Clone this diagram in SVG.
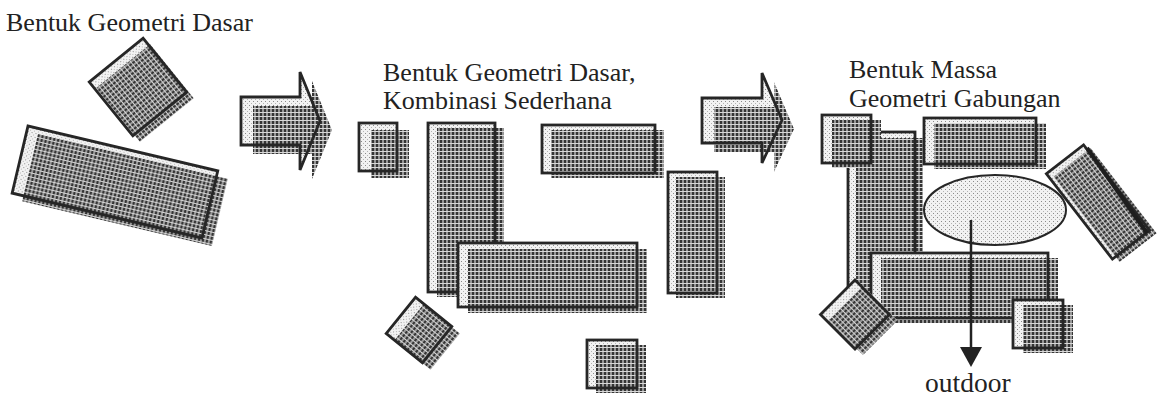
<svg xmlns="http://www.w3.org/2000/svg" width="1167" height="400" viewBox="0 0 1167 400">
<defs>
<pattern id="dark" width="4" height="4" patternUnits="userSpaceOnUse">
<rect width="4" height="4" fill="#979797"/>
<rect x="0" y="0" width="2" height="3" fill="#353535"/>
<rect x="0" y="3" width="4" height="1" fill="#d8d8d8"/>
</pattern>
<pattern id="light" width="4" height="4" patternUnits="userSpaceOnUse">
<rect width="4" height="4" fill="#f2f2f2"/>
<rect x="1" y="1" width="1" height="1" fill="#8a8a8a"/>
<rect x="3" y="3" width="1" height="1" fill="#b4b4b4"/>
</pattern>
<style>
.ol{fill:none;stroke:#262626;stroke-width:2.8;stroke-linejoin:miter}
.lt{fill:url(#light)}
.dk{fill:url(#dark)}
.t{font-family:"Liberation Serif","Times New Roman",serif;font-size:26px;fill:#222}
</style>
</defs>
<rect width="1167" height="400" fill="#ffffff"/>

<g id="labels">
<text class="t" x="6" y="31">Bentuk Geometri Dasar</text>
<text class="t" x="383" y="81">Bentuk Geometri Dasar,</text>
<text class="t" x="383" y="109">Kombinasi Sederhana</text>
<text class="t" x="849" y="78">Bentuk Massa</text>
<text class="t" x="849" y="107">Geometri Gabungan</text>
<text class="t" x="925" y="392" style="font-size:27.5px">outdoor</text>
</g>

<!-- Stage 1 -->
<g id="s1-diamond">
<rect class="lt" transform="translate(138,87) rotate(51)" x="-34.6" y="-34.6" width="69.3" height="69.3"/>
<rect class="dk" transform="translate(145,93) rotate(51)" x="-34.6" y="-34.6" width="69.3" height="69.3"/>
<rect class="ol" transform="translate(138,87) rotate(51)" x="-34.6" y="-34.6" width="69.3" height="69.3"/>
</g>
<g id="s1-bar">
<rect class="lt" transform="translate(28,126) rotate(13.3)" width="195" height="69"/>
<rect class="dk" transform="translate(38,134) rotate(13.3)" width="195" height="69"/>
<rect class="ol" transform="translate(28,126) rotate(13.3)" width="195" height="69"/>
</g>

<!-- Stage 2 -->
<g id="s2-square-a">
<rect class="lt" x="359" y="123" width="38" height="48"/>
<rect class="dk" x="371" y="130" width="38" height="48"/>
<rect class="ol" x="359" y="123" width="38" height="48"/>
</g>
<g id="s2-vbar">
<rect class="lt" x="428" y="123" width="67" height="169"/>
<rect class="dk" x="437" y="128" width="67" height="169"/>
<rect class="ol" x="428" y="123" width="67" height="169"/>
</g>
<g id="s2-hbar">
<rect class="lt" x="458" y="243" width="179" height="64"/>
<rect class="dk" x="468" y="249" width="179" height="64"/>
<rect class="ol" x="458" y="243" width="179" height="64"/>
</g>
<g id="s2-topbar">
<rect class="lt" x="542" y="125" width="113" height="48"/>
<rect class="dk" x="551" y="130" width="113" height="48"/>
<rect class="ol" x="542" y="125" width="113" height="48"/>
</g>
<g id="s2-rightbar">
<rect class="lt" x="668" y="172" width="49" height="121"/>
<rect class="dk" x="676" y="177" width="49" height="121"/>
<rect class="ol" x="668" y="172" width="49" height="121"/>
</g>
<g id="s2-diamond">
<rect class="lt" transform="translate(419,330) rotate(39)" x="-23.3" y="-23.3" width="46.6" height="46.6"/>
<rect class="dk" transform="translate(427,337) rotate(39)" x="-23.3" y="-23.3" width="46.6" height="46.6"/>
<rect class="ol" transform="translate(419,330) rotate(39)" x="-23.3" y="-23.3" width="46.6" height="46.6"/>
</g>
<g id="s2-square-b">
<rect class="lt" x="587" y="340" width="50" height="48"/>
<rect class="dk" x="596" y="345" width="50" height="48"/>
<rect class="ol" x="587" y="340" width="50" height="48"/>
</g>

<!-- Stage 3 -->
<g id="s3-vbar">
<rect class="lt" x="848" y="132" width="67" height="170"/>
<rect class="dk" x="856" y="138" width="67" height="170"/>
<rect class="ol" x="848" y="132" width="67" height="170"/>
</g>
<g id="s3-square-tl">
<rect class="lt" x="822" y="115" width="49" height="48"/>
<rect class="dk" x="832" y="120" width="49" height="48"/>
<rect class="ol" x="822" y="115" width="49" height="48"/>
</g>
<g id="s3-topbar">
<rect class="lt" x="924" y="118" width="112" height="46"/>
<rect class="dk" x="934" y="123" width="112" height="46"/>
<rect class="ol" x="924" y="118" width="112" height="46"/>
</g>
<g id="s3-hbar">
<rect class="lt" x="871" y="253" width="177" height="65"/>
<rect class="dk" x="881" y="258" width="177" height="65"/>
<rect class="ol" x="871" y="253" width="177" height="65"/>
</g>
<g id="s3-ellipse">
<ellipse cx="995" cy="210" rx="71" ry="35" fill="url(#light)" stroke="#262626" stroke-width="2"/>
</g>
<g id="s3-tilted">
<rect class="lt" transform="translate(1098,202) rotate(52.3)" x="-54" y="-23.5" width="108" height="47"/>
<rect class="dk" transform="translate(1105,205) rotate(52.3)" x="-54" y="-23.5" width="108" height="47"/>
<rect class="ol" transform="translate(1098,202) rotate(52.3)" x="-54" y="-23.5" width="108" height="47"/>
<line x1="1087" y1="148" x2="1147" y2="233" stroke="#1e1e1e" stroke-width="4"/>
</g>
<g id="s3-square-br">
<rect class="lt" x="1013" y="300" width="50" height="48"/>
<rect class="dk" x="1023" y="305" width="50" height="48"/>
<rect class="ol" x="1013" y="300" width="50" height="48"/>
</g>
<g id="s3-diamond">
<rect class="lt" transform="translate(855,314.5) rotate(45)" x="-24.4" y="-24.4" width="48.8" height="48.8"/>
<rect class="dk" transform="translate(863,320.5) rotate(45)" x="-24.4" y="-24.4" width="48.8" height="48.8"/>
<rect class="ol" transform="translate(855,314.5) rotate(45)" x="-24.4" y="-24.4" width="48.8" height="48.8"/>
</g>

<!-- Connectors -->
<g id="connectors">
<g id="arrow-1">
<path class="lt" d="M241,97 H300 V72 L320,121 L300,170 V145 H241 Z"/>
<path class="dk" transform="translate(12,9)" d="M241,97 H300 V72 L320,121 L300,170 V145 H241 Z"/>
<path class="ol" d="M241,97 H300 V72 L320,121 L300,170 V145 H241 Z"/>
</g>
<g id="arrow-2">
<path class="lt" d="M702,98 H762 V73 L782,120 L762,163 V143 H702 Z"/>
<path class="dk" transform="translate(12,9)" d="M702,98 H762 V73 L782,120 L762,163 V143 H702 Z"/>
<path class="ol" d="M702,98 H762 V73 L782,120 L762,163 V143 H702 Z"/>
</g>
<g id="arrow-outdoor">
<line x1="971" y1="220" x2="971" y2="348" stroke="#222" stroke-width="2.5"/>
<polygon points="960,347 982,347 971,367" fill="#222"/>
</g>
</g>
</svg>
